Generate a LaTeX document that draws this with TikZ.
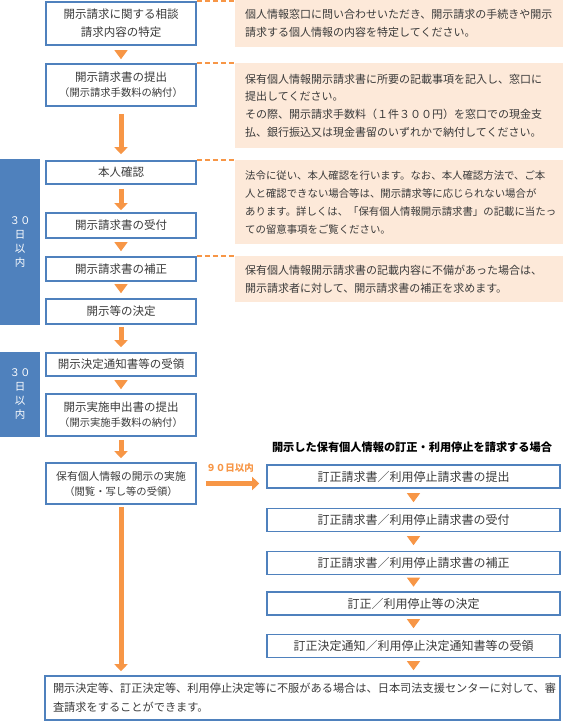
\documentclass[tikz,border=0pt]{standalone}
\usepackage{fontspec}
\setmainfont{Noto Sans CJK JP}
\usetikzlibrary{arrows.meta}
\definecolor{boxblue}{HTML}{4F81BD}
\definecolor{tanfill}{HTML}{FDE9D9}
\definecolor{orng}{HTML}{F79646}
\definecolor{txt}{HTML}{3A3A3A}
\newcommand{\subtxt}[1]{{\fontsize{10.3}{18}\selectfont #1}}
\tikzset{
 lbox/.style={draw=boxblue, line width=1.6pt, minimum width=150pt, text=txt, font=\fontsize{11.5}{18}\selectfont, align=center, inner sep=0pt},
 rbox/.style={draw=boxblue, line width=1.6pt, minimum width=293pt, minimum height=23pt, text=txt, font=\fontsize{12}{18}\selectfont, inner sep=0pt},
 tanbox/.style={fill=tanfill, minimum width=328pt, text width=308pt, inner xsep=10pt, inner ysep=0pt, align=left, text=txt, font=\fontsize{11}{17.8}\selectfont, anchor=north west},
 sidebox/.style={fill=boxblue, minimum width=40pt, text=white, font=\fontsize{10.5}{14}\selectfont, align=center, inner sep=0pt},
 fat/.style={draw=orng, line width=5pt, -{Triangle[length=7pt,width=13pt]}},
 tri/.style={draw=orng, line width=1pt, -{Triangle[length=9pt,width=13pt]}},
 dashline/.style={draw=orng, line width=1.5pt, dash pattern=on 5pt off 3pt},
}
\begin{document}
\begin{tikzpicture}[x=1pt,y=-1pt]
\useasboundingbox (0,0) rectangle (566,723);
% side boxes
\node[sidebox, minimum height=166pt] (s1) at (20,242) {３０\\日\\以\\内};
\node[sidebox, minimum height=85pt] (s2) at (20,394.5) {３０\\日\\以\\内};
% tan boxes
\node[tanbox, minimum height=47pt] (t1) at (235,0) {個人情報窓口に問い合わせいただき、開示請求の手続きや開示\\請求する個人情報の内容を特定してください。};
\node[tanbox, minimum height=85pt] (t2) at (235,63) {保有個人情報開示請求書に所要の記載事項を記入し、窓口に\\提出してください。\\その際、開示請求手数料（１件３００円）を窓口での現金支\\払、銀行振込又は現金書留のいずれかで納付してください。};
\node[tanbox, minimum height=84pt, font=\fontsize{10.4}{18}\selectfont] (t3) at (235,160) {法令に従い、本人確認を行います。なお、本人確認方法で、ご本\\人と確認できない場合等は、開示請求等に応じられない場合が\\あります。詳しくは、「保有個人情報開示請求書」の記載に当たっ\\ての留意事項をご覧ください。};
\node[tanbox, minimum height=46pt] (t4) at (235,256) {保有個人情報開示請求書の記載内容に不備があった場合は、\\開示請求者に対して、開示請求書の補正を求めます。};
% left column
\node[lbox, minimum height=43pt] (b1) at (121,23.5) {開示請求に関する相談\\請求内容の特定};
\node[lbox, minimum height=42pt] (b2) at (121,85) {開示請求書の提出\\[-3pt]\subtxt{（開示請求手数料の納付）}};
\node[lbox, minimum height=23pt] (b3) at (121,172.5) {本人確認};
\node[lbox, minimum height=25pt] (b4) at (121,225.5) {開示請求書の受付};
\node[lbox, minimum height=24pt] (b5) at (121,269) {開示請求書の補正};
\node[lbox, minimum height=25pt] (b6) at (121,311.5) {開示等の決定};
\node[lbox, minimum height=23pt] (b7) at (121,364.5) {開示決定通知書等の受領};
\node[lbox, minimum height=42pt] (b8) at (121,415) {開示実施申出書の提出\\[-3pt]\subtxt{（開示実施手数料の納付）}};
\node[lbox, minimum height=41pt] (b9) at (121,483.5) {{\fontsize{10.8}{18}\selectfont 保有個人情報の開示の実施}\\[-3pt]\subtxt{（閲覧・写し等の受領）}};
% right column
\node[font=\bfseries\fontsize{11.2}{14}\selectfont, text=black] (hd) at (412,447) {開示した保有個人情報の訂正・利用停止を請求する場合};
\node[rbox] (r1) at (413.5,476.5) {訂正請求書／利用停止請求書の提出};
\node[rbox] (r2) at (413.5,520) {訂正請求書／利用停止請求書の受付};
\node[rbox] (r3) at (413.5,563) {訂正請求書／利用停止請求書の補正};
\node[rbox] (r4) at (413.5,603.5) {訂正／利用停止等の決定};
\node[rbox] (r5) at (413.5,646) {訂正決定通知／利用停止決定通知書等の受領};
\node[text=orng, font=\bfseries\fontsize{9.5}{12}\selectfont] (d90) at (230,468) {９０日以内};
% bottom
\node[draw=boxblue, line width=1.6pt, minimum width=515pt, minimum height=44pt, text width=499pt, inner xsep=8pt, inner ysep=0pt, align=left, text=txt, font=\fontsize{11.2}{19}\selectfont] (bt) at (302.5,698) {開示決定等、訂正決定等、利用停止決定等に不服がある場合は、日本司法支援センターに対して、審\\査請求をすることができます。};
% dashed links
\draw[dashline] (b1.north east) -- (b1.north east -| t1.west);
\draw[dashline] (b2.north east) -- (b2.north east -| t2.west);
\draw[dashline] (b3.north east) -- (b3.north east -| t3.west);
\draw[dashline] (b5.north east) -- (b5.north east -| t4.west);
% left connectors
\draw[tri, shorten <=5pt, shorten >=4pt] (b1) -- (b2);
\draw[fat, shorten <=7pt, shorten >=6pt] (b2) -- (b3);
\draw[fat, shorten <=4pt, shorten >=2pt] (b3) -- (b4);
\draw[tri, shorten <=5pt, shorten >=5pt] (b4) -- (b5);
\draw[tri, shorten <=4pt, shorten >=5pt] (b5) -- (b6);
\draw[fat, shorten <=2pt, shorten >=5pt] (b6) -- (b7);
\draw[tri, shorten <=4pt, shorten >=4pt] (b7) -- (b8);
\draw[fat, shorten <=3pt, shorten >=4pt] (b8) -- (b9);
\draw[fat, shorten <=2pt, shorten >=4pt] (b9.south) -- (b9.south |- bt.north);
\draw[fat, shorten <=9pt, shorten >=7pt] (b9.east) -- (b9.east -| r1.west);
% right connectors
\draw[tri, shorten <=5.5pt, shorten >=5.5pt] (r1) -- (r2);
\draw[tri, shorten <=5.5pt, shorten >=5.5pt] (r2) -- (r3);
\draw[tri, shorten <=4.5pt, shorten >=4.5pt] (r3) -- (r4);
\draw[tri, shorten <=5.5pt, shorten >=5.5pt] (r4) -- (r5);
\draw[tri, shorten <=5pt, shorten >=5pt] (r5.south) -- (r5.south |- bt.north);
\end{tikzpicture}
\end{document}
